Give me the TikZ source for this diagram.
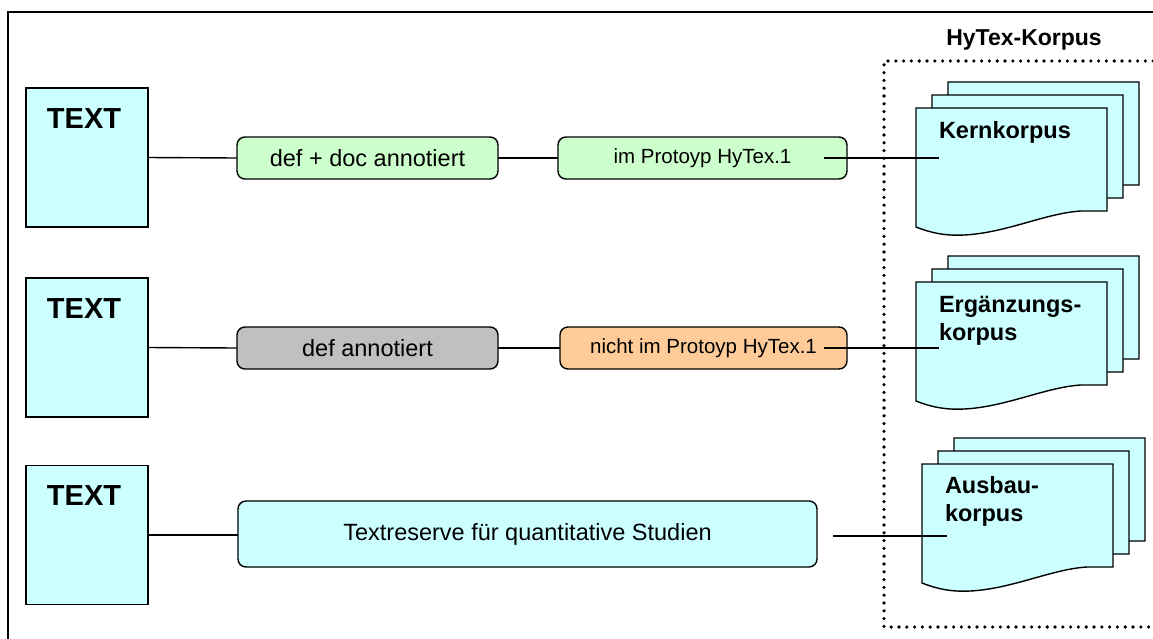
\documentclass[tikz,border=0pt]{standalone}
\usepackage{fontspec}
\setmainfont{Liberation Sans}
\definecolor{cyanfill}{HTML}{CCFFFF}
\definecolor{greenfill}{HTML}{CCFFCC}
\definecolor{grayfill}{HTML}{C0C0C0}
\definecolor{orangefill}{HTML}{FFCC99}
\newcommand\hydoc[2]{%
  \draw[docstyle, shift={(#1,#2)}] (0,0) -- (191,0) -- (191,103) -- (165,103)
    .. controls (130,105) and (90,125) .. (48,127)
    .. controls (30,128) and (15,125) .. (0,119) -- cycle;}
\begin{document}
\begin{tikzpicture}[x=1pt,y=-1pt,
  every node/.style={inner sep=0pt, outer sep=0pt},
  frameline/.style={line width=1.4pt},
  textbox/.style={draw, line width=1.4pt, fill=cyanfill, minimum width=122pt, minimum height=139pt},
  textlbl/.style={font=\fontsize{29}{34}\selectfont\bfseries, anchor=base},
  rbox/.style={draw, line width=1.4pt, rounded corners=8pt, minimum height=42pt},
  bigtxt/.style={font=\fontsize{23.5}{28}\selectfont},
  smalltxt/.style={font=\fontsize{20.5}{24}\selectfont},
  docstyle/.style={draw, line width=1.4pt, fill=cyanfill},
  doclbl/.style={font=\fontsize{23.5}{28}\selectfont\bfseries, align=left, anchor=north west},
  conn/.style={line width=1.4pt},
  dotbox/.style={line width=3.6pt, line cap=round, dash pattern=on 0pt off 7.8pt}
]
\clip (0,0) rectangle (1153,638);
% outer frame
\draw[frameline] (8,700) -- (8,12) -- (1200,12);
% dotted corpus box
\draw[dotbox] (1200,61) -- (884,61) -- (884,627) -- (1200,627);
\node[font=\fontsize{23}{28}\selectfont\bfseries, anchor=base] (title) at (1024,45) {HyTex-Korpus};

% TEXT boxes
\node[textbox] (t1) at (87,157.5) {};
\node[textlbl] (t1l) at (84,128) {TEXT};
\node[textbox] (t2) at (87,347.5) {};
\node[textlbl] (t2l) at (84,318) {TEXT};
\node[textbox] (t3) at (87,535) {};
\node[textlbl] (t3l) at (84,505.5) {TEXT};

% row 1
\node[rbox, fill=greenfill, minimum width=261pt, bigtxt] (b11) at (367.5,158) {def + doc annotiert};
\node[rbox, fill=greenfill, minimum width=289pt, smalltxt] (b12) at (702.5,158) {im Protoyp HyTex.1};
% row 2
\node[rbox, fill=grayfill, minimum width=261pt, bigtxt] (b21) at (367.5,348) {def annotiert};
\node[rbox, fill=orangefill, minimum width=287pt, smalltxt] (b22) at (703.5,348) {nicht im Protoyp HyTex.1};
% row 3
\node[rbox, fill=cyanfill, minimum width=579pt, minimum height=66pt, bigtxt] (b31) at (527.5,534) {Textreserve für quantitative Studien};

% document stacks
\hydoc{948}{82}\hydoc{932}{95}\hydoc{916}{108}
\hydoc{948}{256}\hydoc{932}{269}\hydoc{916}{282}
\hydoc{954}{438}\hydoc{938}{451}\hydoc{922}{464}
\node[doclbl] (k1) at (939,121) {Kernkorpus};
\node[doclbl] (k2) at (939,296) {Ergänzungs-\\korpus};
\node[doclbl] (k3) at (945,476) {Ausbau-\\korpus};

% connector endpoints
\coordinate (s1) at (824,158);
\coordinate (e1) at (939,158);
\coordinate (s2) at (824,348);
\coordinate (e2) at (939,348);
\coordinate (s3) at (833,536);
\coordinate (e3) at (947,536);

\draw[conn] (t1.east) -- (b11.west);
\draw[conn] (b11.east) -- (b12.west);
\draw[conn] (s1) -- (e1);
\draw[conn] (t2.east) -- (b21.west);
\draw[conn] (b21.east) -- (b22.west);
\draw[conn] (s2) -- (e2);
\draw[conn] (t3.east) -- (t3.east -| b31.west);
\draw[conn] (s3) -- (e3);
\end{tikzpicture}
\end{document}
